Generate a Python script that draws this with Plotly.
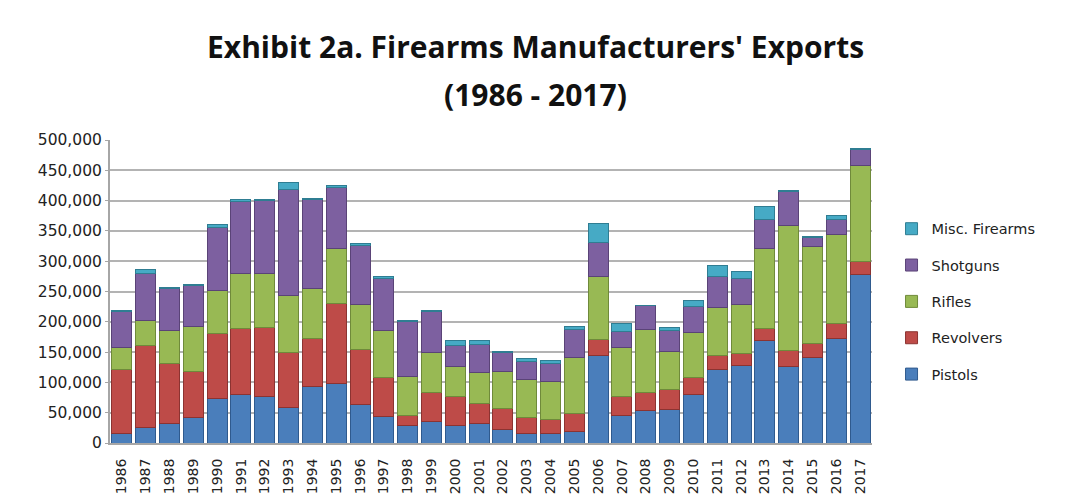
import plotly.graph_objects as go

# Firearms manufacturers' exports by type, 1986-2017
years = [str(y) for y in range(1986, 2018)]

pistols = [16500, 26000, 32600, 42000, 73400, 79300, 76800, 59200, 94000, 98000,
           64100, 44200, 29500, 34700, 28600, 32200, 22600, 16300, 15000, 19200,
           144000, 45000, 54000, 56000, 80000, 121000, 128700, 169000, 126000, 141000,
           173000, 277500]
revolvers = [104600, 134600, 99300, 76600, 106800, 110100, 113200, 90700, 78900, 131600,
             90100, 63700, 15800, 48600, 48100, 32700, 34200, 26500, 24100, 29300,
             27000, 32000, 28600, 33000, 27500, 23200, 18500, 20000, 26000, 23600,
             24700, 22000]
rifles = [37200, 42200, 53900, 73200, 71800, 91100, 90000, 94300, 81800, 90800,
          74600, 77200, 65200, 65600, 49600, 50700, 60600, 62500, 62400, 92100,
          103000, 81000, 104000, 62000, 75000, 79300, 82000, 132000, 207000, 159000,
          146700, 157700]
shotguns = [58900, 76300, 68700, 67600, 104300, 117800, 119400, 173500, 146500, 101400,
            97000, 86000, 89500, 67700, 35100, 46200, 31900, 30000, 30000, 46700,
            57000, 26000, 39600, 34000, 43000, 51300, 42000, 48000, 56000, 15000,
            23600, 27500]
misc = [2000, 8000, 2000, 2000, 5000, 4000, 2500, 13000, 2000, 3000,
        4000, 3000, 2000, 2000, 8000, 7000, 1500, 3500, 4000, 5500,
        32000, 13500, 1500, 6000, 10000, 18600, 11000, 21000, 2000, 1500,
        6600, 1500]

# stacked bottom-to-top; legend lists them top-to-bottom
series = [
    ("Pistols", pistols, "#4a7ebb", "#2f5a8e"),
    ("Revolvers", revolvers, "#be4b48", "#8c3331"),
    ("Rifles", rifles, "#98b954", "#6f8a3a"),
    ("Shotguns", shotguns, "#7d60a0", "#5a4377"),
    ("Misc. Firearms", misc, "#46aac5", "#2f7d92"),
]

TITLE_FONT = "'Open Sans', Lato, sans-serif"
TICK_FONT = "'DejaVu Sans', sans-serif"

fig = go.Figure()
for i, (name, vals, color, edge) in enumerate(series):
    fig.add_trace(go.Bar(
        x=years, y=vals, name=name, legendgroup=name,
        legendrank=100 - i,
        marker=dict(color=color, line=dict(color=edge, width=1)),
    ))

fig.update_layout(
    width=1069, height=503,
    barmode="stack", bargap=0.16,
    plot_bgcolor="white", paper_bgcolor="white",
    margin=dict(l=110, r=197, t=140, b=60),
    font=dict(family=TICK_FONT, color="#222222"),
    showlegend=True,
    legend=dict(
        xref="container", yref="container",
        x=0.834, y=0.577, xanchor="left", yanchor="top",
        traceorder="grouped", tracegroupgap=14.5,
        font=dict(size=14.5, family=TICK_FONT, color="#222222"),
        itemwidth=30,
    ),
    annotations=[
        dict(text="<b>Exhibit 2a. Firearms Manufacturers' Exports</b>",
             xref="paper", yref="paper", x=0.558, y=1.307,
             xanchor="center", yanchor="middle", showarrow=False,
             font=dict(size=30, family=TITLE_FONT, color="#111111")),
        dict(text="<b>(1986 - 2017)</b>",
             xref="paper", yref="paper", x=0.558, y=1.149,
             xanchor="center", yanchor="middle", showarrow=False,
             font=dict(size=30, family=TITLE_FONT, color="#111111")),
    ],
)

fig.update_xaxes(
    type="category", tickangle=-90,
    tickfont=dict(size=14, family=TICK_FONT, color="#222222"),
    showline=True, linecolor="#a6a6a6", linewidth=2,
    showgrid=False, ticklabelstandoff=8, automargin=False,
)
fig.update_yaxes(
    range=[0, 500000], dtick=50000, tickformat=",",
    tickfont=dict(size=15.5, family=TICK_FONT, color="#222222"),
    showgrid=True, gridcolor="#b3b3b3", gridwidth=2,
    showline=True, linecolor="#a6a6a6", linewidth=2,
    ticks="outside", ticklen=3, tickcolor="#a6a6a6",
    zeroline=False,
)

fig.write_html("out.html")
